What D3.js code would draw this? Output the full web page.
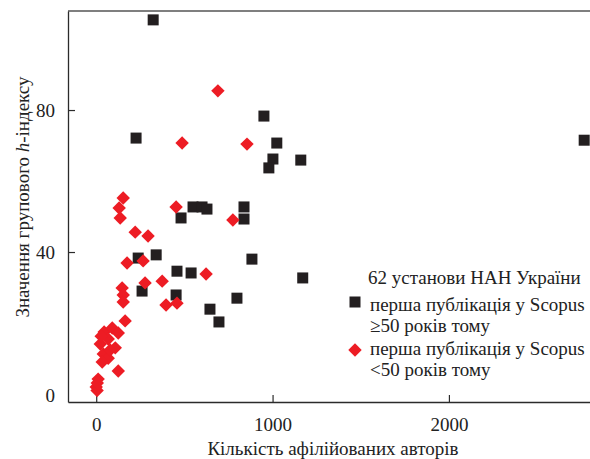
<!DOCTYPE html>
<html>
<head>
<meta charset="utf-8">
<script src="https://cdn.jsdelivr.net/npm/d3@7"></script>
<style>
  body { margin: 0; background: #fff; }
  svg text { font-family: "Liberation Serif", "Times New Roman", "DejaVu Serif", serif; }
</style>
</head>
<body>
<div id="chart"></div>
<script>
// institutions whose first Scopus publication was >= 50 years ago
var oldAuthors = [323, 951, 1024, 1002, 979, 1160, 226, 549, 600, 628, 838, 481, 838, 2767,
  238, 340, 883, 458, 538, 1171, 260, 453, 798, 645, 696];
var oldH = [105.4, 78.3, 70.7, 66.2, 63.7, 65.9, 72.1, 52.7, 52.7, 52.1, 52.7, 49.6, 49.3, 71.5,
  38.3, 39.2, 38.0, 34.6, 34.1, 32.7, 29.0, 27.9, 27.0, 23.9, 20.3];

// institutions whose first Scopus publication was < 50 years ago
var newAuthors = [690, 487, 855, 153, 130, 136, 453, 775, 221, 294, 175, 266, 623, 277, 374,
  147, 153, 153, 396, 458, 164, 45, 91, 125, 23, 68, 108, 40, 68, 34, 125, 11, 0, 5, 79, 6, 28];
var newH = [85.4, 70.7, 70.4, 55.2, 52.4, 49.6, 52.7, 49.0, 45.6, 44.5, 36.9, 37.5, 33.8, 31.3, 31.8,
  29.9, 27.9, 25.9, 25.1, 25.6, 20.6, 17.5, 18.6, 17.2, 14.1, 15.5, 13.0, 11.3, 10.1, 9.0, 6.5, 4.2, 2.0, 1.0, 12.4, 3.1, 16.3];

var xTicks = [0, 1000, 2000];
var yTicks = [0, 40, 80];
var legendTitle = "62 установи НАН України";
var legendLabels = [
  ["перша публікація у Scopus", "≥50 років тому"],
  ["перша публікація у Scopus", "<50 років тому"]
];

var W = 590, H = 459;
var mLeft = 68, mRight = 590, mTop = 11, mBottom = 402;
var black = "#231f20", red = "#ed1c24", axisCol = "#2b2b2b", textCol = "#222";
var serif = "Liberation Serif, Times New Roman, DejaVu Serif, serif";

var svg = d3.select("#chart").append("svg").attr("width", W).attr("height", H);

var x = d3.scaleLinear().domain([-160, 2800]).range([mLeft, mRight]);
var y = d3.scaleLinear().domain([-2.25, 107.9]).range([mBottom, mTop]);

// frame: top line
svg.append("line")
  .attr("x1", mLeft).attr("x2", W + 5).attr("y1", mTop).attr("y2", mTop)
  .attr("stroke", "#555").attr("stroke-width", 1.5);

var gx = svg.append("g").attr("transform", "translate(0," + mBottom + ")")
  .call(d3.axisBottom(x).tickValues(xTicks).tickFormat(d3.format("d"))
    .tickSize(-7).tickSizeOuter(0).tickPadding(16));
var gy = svg.append("g").attr("transform", "translate(" + mLeft + ",0)")
  .call(d3.axisLeft(y).tickValues(yTicks).tickFormat(d3.format("d"))
    .tickSize(-7).tickSizeOuter(0).tickPadding(13));

[gx, gy].forEach(function(g) {
  g.attr("font-family", serif).attr("font-size", 19);
  g.select(".domain").attr("stroke", axisCol).attr("stroke-width", 1.3);
  g.selectAll(".tick line").attr("stroke", axisCol).attr("stroke-width", 1.2);
  g.selectAll(".tick text").attr("fill", textCol);
});
gy.selectAll(".tick").filter(function(d) { return d == 0; }).select("line").remove();
gy.selectAll(".tick").filter(function(d) { return d == 0; }).select("text").attr("dy", "0.42em");

svg.append("text")
  .attr("x", 333).attr("y", 455)
  .attr("text-anchor", "middle").attr("font-size", 19).attr("fill", textCol)
  .text("Кількість афілійованих авторів");

var yl = svg.append("text")
  .attr("transform", "translate(29,197) rotate(-90)")
  .attr("text-anchor", "middle").attr("font-size", 19).attr("fill", textCol);
yl.append("tspan").text("Значення групового ");
yl.append("tspan").attr("font-style", "italic").text("h");
yl.append("tspan").text("-індексу");

var s = 11, dg = 9.5;
var plot = svg.append("g");

plot.selectAll("rect.old").data(d3.range(oldAuthors.length)).enter().append("rect")
  .attr("class", "old")
  .attr("x", function(i) { return x(oldAuthors[i]) - s / 2; })
  .attr("y", function(i) { return y(oldH[i]) - s / 2; })
  .attr("width", s).attr("height", s)
  .attr("fill", black);

plot.selectAll("rect.new").data(d3.range(newAuthors.length)).enter().append("rect")
  .attr("class", "new")
  .attr("x", -dg / 2).attr("y", -dg / 2)
  .attr("width", dg).attr("height", dg)
  .attr("transform", function(i) {
    return "translate(" + x(newAuthors[i]) + "," + y(newH[i]) + ") rotate(45)";
  })
  .attr("fill", red);

// legend
var lg = svg.append("g").attr("font-size", 19).attr("fill", textCol);
lg.append("text").attr("x", 368).attr("y", 284).text(legendTitle);
lg.append("rect").attr("x", 349.5).attr("y", 296.5).attr("width", s).attr("height", s).attr("fill", black);
lg.append("rect").attr("x", -dg / 2).attr("y", -dg / 2).attr("width", dg).attr("height", dg)
  .attr("transform", "translate(355,350) rotate(45)").attr("fill", red);
var rows = [[311, 332], [355, 376]];
legendLabels.forEach(function(l, i) {
  lg.append("text").attr("x", 370).attr("y", rows[i][0]).text(l[0]);
  lg.append("text").attr("x", 370).attr("y", rows[i][1]).text(l[1]);
});
</script>
</body>
</html>
